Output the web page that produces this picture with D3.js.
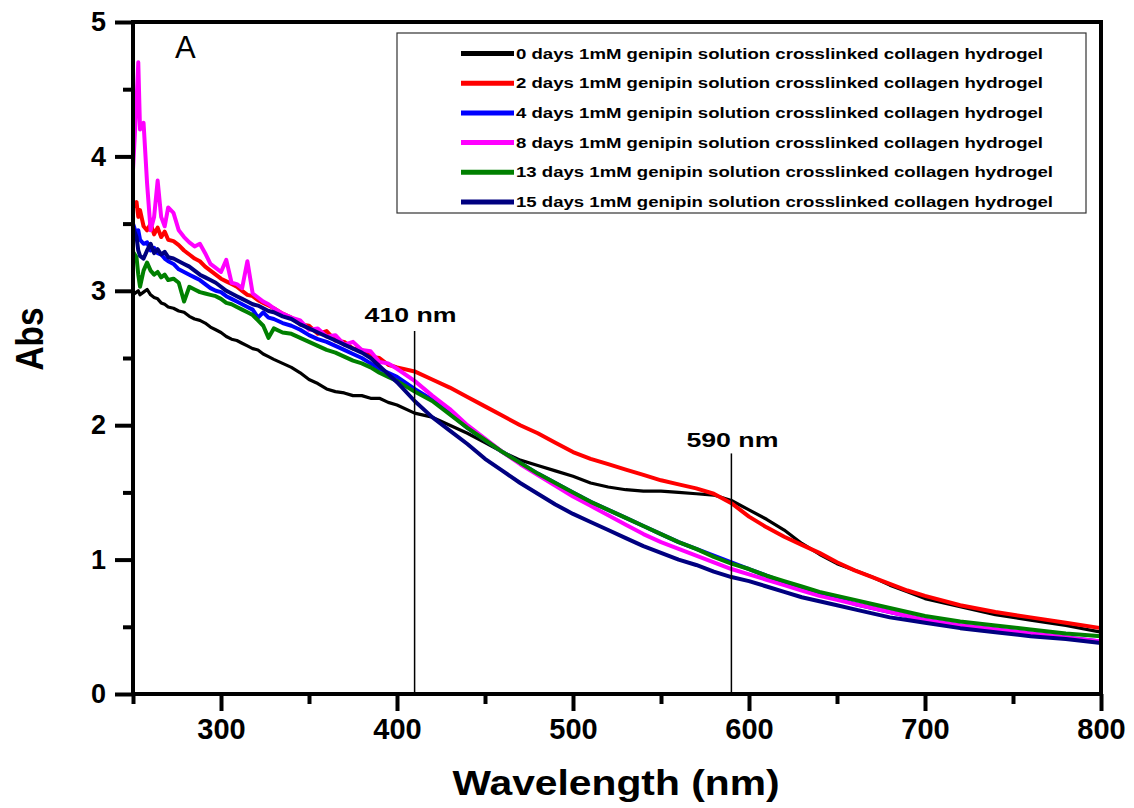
<!DOCTYPE html>
<html>
<head>
<meta charset="utf-8">
<script src="https://cdn.jsdelivr.net/npm/d3@7"></script>
<style>
  body { margin: 0; background: #fff; }
  svg text { font-family: 'Liberation Sans', Arial, sans-serif; }
</style>
</head>
<body>
<div id="chartFrame"></div>
<script>
// wavelength grid shared by all spectra (nm)
const wavelengths = [
  250, 252, 253, 254, 256, 258, 260, 262, 264, 266, 268, 270,
  273, 276, 279, 282, 285, 288, 291, 294, 297, 300, 303, 306, 309, 312, 315, 318, 321, 324, 327, 330,
  335, 340, 345, 350, 355, 360, 365, 370, 375, 380, 385, 390, 395, 400,
  410, 420, 430, 440, 450, 460, 470, 480, 490, 500, 510, 520, 530, 540, 550, 560, 570, 580, 590, 600,
  610, 620, 630, 640, 650, 660, 670, 680, 690, 700,
  720, 740, 760, 780, 800
]
const abs0 = [
  2.97, 2.99, 3.00, 2.97, 2.99, 3.01, 2.97, 2.95, 2.94, 2.91, 2.90, 2.88,
  2.87, 2.85, 2.84, 2.81, 2.79, 2.78, 2.76, 2.73, 2.71, 2.69, 2.66, 2.64, 2.63, 2.61, 2.59, 2.57, 2.56, 2.53, 2.51, 2.49,
  2.46, 2.43, 2.39, 2.34, 2.31, 2.27, 2.25, 2.24, 2.22, 2.22, 2.20, 2.20, 2.17, 2.15,
  2.09, 2.06, 2.00, 1.94, 1.87, 1.80, 1.74, 1.70, 1.66, 1.62, 1.57, 1.54, 1.52, 1.51, 1.51, 1.50, 1.49, 1.48, 1.44, 1.37,
  1.30, 1.22, 1.12, 1.04, 0.97, 0.92, 0.87, 0.81, 0.76, 0.71,
  0.65, 0.59, 0.55, 0.51, 0.46
]
const abs2 = [
  3.62, 3.66, 3.55, 3.60, 3.48, 3.45, 3.50, 3.42, 3.47, 3.40, 3.44, 3.38,
  3.37, 3.34, 3.30, 3.27, 3.24, 3.22, 3.18, 3.15, 3.12, 3.09, 3.07, 3.05, 3.03, 3.00, 2.97, 2.96, 2.93, 2.91, 2.89, 2.87,
  2.83, 2.80, 2.75, 2.74, 2.68, 2.70, 2.63, 2.62, 2.57, 2.56, 2.51, 2.50, 2.45, 2.43,
  2.40, 2.34, 2.28, 2.21, 2.14, 2.07, 2.00, 1.94, 1.87, 1.80, 1.75, 1.71, 1.67, 1.63, 1.59, 1.56, 1.53, 1.49, 1.42, 1.32,
  1.24, 1.17, 1.11, 1.05, 0.98, 0.92, 0.87, 0.82, 0.77, 0.73,
  0.66, 0.61, 0.57, 0.53, 0.49
]
const abs4 = [
  3.50, 3.42, 3.45, 3.38, 3.35, 3.36, 3.30, 3.32, 3.28, 3.27, 3.24, 3.22,
  3.20, 3.16, 3.14, 3.12, 3.10, 3.08, 3.05, 3.02, 3.00, 2.99, 2.96, 2.94, 2.92, 2.90, 2.88, 2.86, 2.80, 2.84, 2.80, 2.79,
  2.76, 2.74, 2.71, 2.67, 2.64, 2.62, 2.59, 2.56, 2.53, 2.50, 2.46, 2.42, 2.39, 2.36,
  2.27, 2.19, 2.09, 1.98, 1.89, 1.80, 1.72, 1.64, 1.57, 1.50, 1.43, 1.37, 1.31, 1.25, 1.19, 1.13, 1.08, 1.03, 0.98, 0.93,
  0.88, 0.83, 0.79, 0.75, 0.71, 0.67, 0.64, 0.61, 0.58, 0.55,
  0.51, 0.48, 0.45, 0.42, 0.39
]
const abs8 = [
  3.90, 4.40, 4.70, 4.20, 4.25, 3.80, 3.45, 3.55, 3.82, 3.55, 3.48, 3.62,
  3.58, 3.45, 3.40, 3.36, 3.33, 3.35, 3.28, 3.20, 3.17, 3.14, 3.23, 3.06, 3.05, 3.02, 3.22, 2.98, 2.95, 2.92, 2.90, 2.87,
  2.83, 2.80, 2.78, 2.71, 2.72, 2.66, 2.67, 2.60, 2.62, 2.56, 2.55, 2.47, 2.46, 2.42,
  2.33, 2.22, 2.12, 2.00, 1.90, 1.80, 1.71, 1.63, 1.55, 1.47, 1.40, 1.33, 1.26, 1.19, 1.13, 1.08, 1.03, 0.98, 0.93, 0.89,
  0.85, 0.81, 0.77, 0.73, 0.70, 0.67, 0.64, 0.61, 0.58, 0.55,
  0.51, 0.48, 0.45, 0.42, 0.39
]
const abs13 = [
  3.29, 3.25, 3.12, 3.03, 3.15, 3.21, 3.15, 3.12, 3.14, 3.10, 3.12, 3.08,
  3.09, 3.06, 2.92, 3.03, 3.01, 2.99, 2.98, 2.97, 2.96, 2.94, 2.91, 2.90, 2.88, 2.86, 2.84, 2.82, 2.78, 2.74, 2.65, 2.72,
  2.69, 2.68, 2.65, 2.62, 2.59, 2.56, 2.54, 2.51, 2.48, 2.46, 2.43, 2.39, 2.36, 2.33,
  2.25, 2.18, 2.08, 1.98, 1.89, 1.80, 1.72, 1.64, 1.57, 1.50, 1.43, 1.37, 1.31, 1.25, 1.19, 1.13, 1.08, 1.02, 0.97, 0.93,
  0.88, 0.84, 0.80, 0.76, 0.73, 0.70, 0.67, 0.64, 0.61, 0.58,
  0.54, 0.51, 0.48, 0.45, 0.43
]
const abs15 = [
  3.47, 3.40, 3.30, 3.26, 3.24, 3.30, 3.35, 3.28, 3.31, 3.27, 3.29, 3.25,
  3.24, 3.22, 3.20, 3.18, 3.15, 3.12, 3.10, 3.08, 3.06, 3.03, 3.00, 2.98, 2.96, 2.94, 2.92, 2.90, 2.89, 2.87, 2.85, 2.84,
  2.81, 2.79, 2.75, 2.72, 2.69, 2.66, 2.63, 2.60, 2.57, 2.54, 2.50, 2.44, 2.38, 2.32,
  2.18, 2.06, 1.96, 1.86, 1.75, 1.66, 1.57, 1.49, 1.41, 1.34, 1.28, 1.22, 1.16, 1.10, 1.05, 1.00, 0.96, 0.91, 0.87, 0.84,
  0.80, 0.76, 0.72, 0.69, 0.66, 0.63, 0.60, 0.57, 0.55, 0.53,
  0.49, 0.46, 0.43, 0.41, 0.38
]
const seriesNames = [
  '0 days 1mM genipin solution crosslinked collagen hydrogel',
  '2 days 1mM genipin solution crosslinked collagen hydrogel',
  '4 days 1mM genipin solution crosslinked collagen hydrogel',
  '8 days 1mM genipin solution crosslinked collagen hydrogel',
  '13 days 1mM genipin solution crosslinked collagen hydrogel',
  '15 days 1mM genipin solution crosslinked collagen hydrogel'
]
const seriesValues = [abs0, abs2, abs4, abs8, abs13, abs15]
const xMajor = [300, 400, 500, 600, 700, 800]
const xMinor = [250, 350, 450, 550, 650, 750]
const yMajor = [0, 1, 2, 3, 4, 5]
const yMinor = [0.5, 1.5, 2.5, 3.5, 4.5]
const markers = [410, 590]
const markerTops = [2.7, 1.79]

const colors = ['#000000', '#ff0000', '#0000ff', '#ff00ff', '#008000', '#000080']
const lineWidths = [3.2, 4, 4, 4, 4, 4]

const W = 1134
const H = 808
const margin = { top: 22, left: 133, right: 33, bottom: 114 }
const width = W - margin.left - margin.right
const height = H - margin.top - margin.bottom

const svg = d3.select('#chartFrame').append('svg')
  .attr('width', W)
  .attr('height', H)
const g = svg.append('g')
  .attr('transform', `translate(${margin.left},${margin.top})`)

const xScale = d3.scaleLinear().domain([250, 800]).range([0, width])
const yScale = d3.scaleLinear().domain([0, 5]).range([height, 0])

// spectra
const line = d3.line()
  .x(d => xScale(d[0]))
  .y(d => yScale(d[1]))
seriesValues.forEach((vals, i) => {
  g.append('path')
    .datum(wavelengths.map((w, k) => [w, vals[k]]))
    .attr('fill', 'none')
    .attr('stroke', colors[i])
    .attr('stroke-width', lineWidths[i])
    .attr('stroke-linejoin', 'round')
    .attr('d', line)
})

// marker lines
markers.forEach((m, i) => {
  g.append('line')
    .attr('x1', xScale(m)).attr('x2', xScale(m))
    .attr('y1', yScale(markerTops[i])).attr('y2', height)
    .attr('stroke', '#000')
    .attr('stroke-width', 1.5)
})
g.append('text')
  .attr('x', xScale(410) - 50).attr('y', yScale(2.7) - 9)
  .attr('font-size', 20).attr('font-weight', 'bold')
  .attr('textLength', 92).attr('lengthAdjust', 'spacingAndGlyphs')
  .text('410 nm')
g.append('text')
  .attr('x', xScale(590) - 45).attr('y', yScale(1.79) - 6)
  .attr('font-size', 20).attr('font-weight', 'bold')
  .attr('textLength', 92).attr('lengthAdjust', 'spacingAndGlyphs')
  .text('590 nm')

// axes
const xAxis = g.append('g')
  .attr('transform', `translate(0,${height})`)
  .call(d3.axisBottom(xScale).tickValues(xMajor).tickSize(17).tickPadding(7).tickSizeOuter(0))
xAxis.select('.domain').remove()
xAxis.selectAll('line').attr('stroke-width', 4)
xAxis.selectAll('text')
  .attr('font-size', 29).attr('font-weight', 'bold').attr('fill', '#000')
  .attr('font-family', "'Liberation Sans', Arial, sans-serif")
const xAxisMinor = g.append('g')
  .attr('transform', `translate(0,${height})`)
  .call(d3.axisBottom(xScale).tickValues(xMinor).tickSize(10).tickFormat('').tickSizeOuter(0))
xAxisMinor.select('.domain').remove()
xAxisMinor.selectAll('line').attr('stroke-width', 4)

const yAxis = g.append('g')
  .call(d3.axisLeft(yScale).tickValues(yMajor).tickFormat(d3.format('d'))
    .tickSize(18).tickPadding(9).tickSizeOuter(0))
yAxis.select('.domain').remove()
yAxis.selectAll('line').attr('stroke-width', 4)
yAxis.selectAll('text')
  .attr('font-size', 27).attr('font-weight', 'bold').attr('fill', '#000')
  .attr('font-family', "'Liberation Sans', Arial, sans-serif")
const yAxisMinor = g.append('g')
  .call(d3.axisLeft(yScale).tickValues(yMinor).tickSize(10).tickFormat('').tickSizeOuter(0))
yAxisMinor.select('.domain').remove()
yAxisMinor.selectAll('line').attr('stroke-width', 4)

// frame
g.append('rect')
  .attr('width', width).attr('height', height)
  .attr('fill', 'none')
  .attr('stroke', '#000')
  .attr('stroke-width', 4)

// legend
const legend = g.append('g').attr('transform', `translate(${397 - margin.left},${33 - margin.top})`)
legend.append('rect')
  .attr('width', 689).attr('height', 180)
  .attr('fill', '#fff')
  .attr('stroke', '#333')
  .attr('stroke-width', 1.2)
seriesNames.forEach((name, i) => {
  let row = legend.append('g').attr('transform', `translate(0,${20.5 + i * 29.7})`)
  row.append('line')
    .attr('x1', 64).attr('x2', 117)
    .attr('stroke', colors[i])
    .attr('stroke-width', 5)
  row.append('text')
    .attr('x', 119).attr('y', 5)
    .attr('font-size', 15).attr('font-weight', 'bold')
    .attr('textLength', i < 4 ? 527 : 537).attr('lengthAdjust', 'spacingAndGlyphs')
    .text(name)
})

// panel letter
g.append('text')
  .attr('x', 175 - margin.left).attr('y', 58 - margin.top)
  .attr('font-size', 31)
  .text('A')

// axis titles
svg.append('text')
  .attr('x', 616).attr('y', 795)
  .attr('text-anchor', 'middle')
  .attr('font-size', 35).attr('font-weight', 'bold')
  .attr('textLength', 327).attr('lengthAdjust', 'spacingAndGlyphs')
  .text('Wavelength (nm)')
svg.append('text')
  .attr('transform', 'translate(43,339) rotate(-90)')
  .attr('text-anchor', 'middle')
  .attr('font-size', 38).attr('font-weight', 'bold')
  .attr('textLength', 63).attr('lengthAdjust', 'spacingAndGlyphs')
  .text('Abs')
</script>
</body>
</html>
